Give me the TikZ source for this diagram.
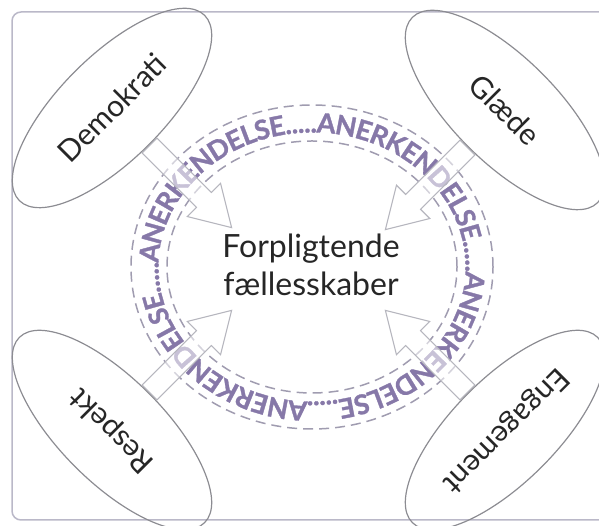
\documentclass[tikz,border=0pt]{standalone}
\usepackage{fontspec}
\setmainfont{Lato}
\newfontfamily\ringface{Lato}[BoldFeatures={FakeBold=1.2}]
\usetikzlibrary{shapes.geometric,shapes.arrows,decorations.text}
\definecolor{framegray}{RGB}{186,184,200}
\definecolor{ringgray}{RGB}{160,156,176}
\definecolor{ringtext}{RGB}{134,120,168}
\definecolor{arrowgray}{RGB}{182,182,190}
\definecolor{ovalgray}{RGB}{140,140,146}
\newcommand\ringfont{\color{ringtext}\ringface\bfseries\fontsize{27}{27}\selectfont}

\begin{document}
\begin{tikzpicture}[x=1pt,y=1pt,
    oval/.style={ellipse, draw=ovalgray, line width=1.2pt, minimum width=262, minimum height=104,
        font=\fontsize{30}{30}\selectfont, text=black!85},
    ringline/.style={draw=ringgray, line width=1.5pt, dash pattern=on 10pt off 6pt},
    fatarrow/.style={single arrow, draw=arrowgray, line width=1.1pt, fill=white, fill opacity=0.55,
        minimum height=116, inner sep=10pt, single arrow head extend=13pt,
        single arrow tip angle=62, anchor=tail}]
    \useasboundingbox (0,0) rectangle (599,526);
    \draw [framegray, line width=1.5pt, rounded corners=9] (12,6) rectangle (612,514);
    \coordinate (c) at (312,259);
    \draw [ringline] (c) ellipse [x radius=181, y radius=162];
    \draw [ringline] (c) ellipse [x radius=145, y radius=126];
    \path [decorate, decoration={text along path, text align={fit to path}, raise=-9.5pt,
        text={|\ringfont|ANERKENDELSE.....ANERKENDELSE.....ANERKENDELSE.....ANERKENDELSE.....}}]
        (c) ++(178:163 and 144) arc [start angle=178, delta angle=-360, x radius=163, y radius=144];
    \node [oval, rotate=45] (demokrati) at (112,418) {Demokrati};
    \node [oval, rotate=-45] (glaede) at (505,416) {Glæde};
    \node [oval, rotate=135] (respekt) at (112,96) {Respekt};
    \node [oval, rotate=225] (engagement) at (505,96) {Engagement};
    \node [fatarrow, rotate=-45] (pil1) at (demokrati.south) {};
    \node [fatarrow, rotate=-135] (pil2) at (glaede.south) {};
    \node [fatarrow, rotate=45] (pil3) at (respekt.south) {};
    \node [fatarrow, rotate=135] (pil4) at (engagement.south) {};
    \node [align=center, font=\fontsize{32}{38}\selectfont, text=black!85] (midt) at (311,261)
        {Forpligtende\\fællesskaber};
\end{tikzpicture}
\end{document}
